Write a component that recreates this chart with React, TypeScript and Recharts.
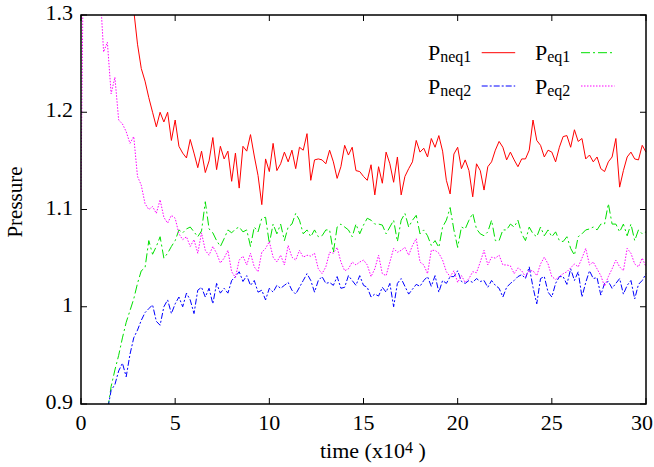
import React from 'react';
import { LineChart, Line, XAxis, YAxis } from 'recharts';

// sampling step of the time grid (x10^4)
const TIME_STEP = 0.2;

const X_TICKS = [0, 5, 10, 15, 20, 25, 30];
const Y_TICKS = [0.9, 1, 1.1, 1.2, 1.3];

// one row per time unit: t = k, k+0.2, k+0.4, k+0.6, k+0.8
const P_NEQ1 = [
  null, null, null, null, null, // 0
  null, null, null, null, null, // 1
  null, null, null, 1.36, 1.305, // 2
  1.27, 1.245, 1.232, 1.215, 1.2, // 3
  1.185, 1.2, 1.19, 1.2, 1.171, // 4
  1.192, 1.165, 1.158, 1.153, 1.172, // 5
  1.158, 1.143, 1.16, 1.138, 1.15, // 6
  1.174, 1.141, 1.165, 1.152, 1.16, // 7
  1.129, 1.158, 1.122, 1.165, 1.16, // 8
  1.177, 1.155, 1.135, 1.105, 1.152, // 9
  1.139, 1.168, 1.14, 1.147, 1.159, // 10
  1.149, 1.161, 1.142, 1.164, 1.161, // 11
  1.178, 1.13, 1.151, 1.152, 1.151, // 12
  1.147, 1.161, 1.149, 1.132, 1.144, // 13
  1.166, 1.156, 1.164, 1.14, 1.139, // 14
  1.134, 1.13, 1.146, 1.115, 1.144, // 15
  1.127, 1.159, 1.147, 1.128, 1.154, // 16
  1.115, 1.134, 1.142, 1.149, 1.171, // 17
  1.159, 1.163, 1.154, 1.173, 1.164, // 18
  1.176, 1.16, 1.13, 1.116, 1.157, // 19
  1.164, 1.142, 1.151, 1.14, 1.113, // 20
  1.147, 1.14, 1.12, 1.144, 1.149, // 21
  1.161, 1.17, 1.164, 1.151, 1.159, // 22
  1.151, 1.144, 1.152, 1.152, 1.161, // 23
  1.192, 1.171, 1.166, 1.154, 1.161, // 24
  1.159, 1.149, 1.164, 1.175, 1.176, // 25
  1.164, 1.182, 1.17, 1.173, 1.152, // 26
  1.156, 1.149, 1.154, 1.142, 1.139, // 27
  1.149, 1.154, 1.173, 1.123, 1.14, // 28
  1.154, 1.159, 1.152, 1.151, 1.166, // 29
  1.159, // 30
];

const P_EQ1 = [
  null, null, null, null, null, // 0
  null, 0.86, 0.893, 0.918, 0.935, // 1
  0.95, 0.968, 0.984, 0.996, 1.008, // 2
  1.024, 1.037, 1.04, 1.068, 1.054, // 3
  1.062, 1.072, 1.05, 1.055, 1.062, // 4
  1.068, 1.079, 1.076, 1.08, 1.082, // 5
  1.077, 1.072, 1.078, 1.108, 1.08, // 6
  1.076, 1.068, 1.062, 1.07, 1.079, // 7
  1.076, 1.08, 1.082, 1.077, 1.079, // 8
  1.062, 1.082, 1.077, 1.091, 1.092, // 9
  1.065, 1.085, 1.075, 1.085, 1.068, // 10
  1.082, 1.085, 1.096, 1.089, 1.075, // 11
  1.079, 1.072, 1.079, 1.072, 1.073, // 12
  1.079, 1.079, 1.056, 1.082, 1.085, // 13
  1.082, 1.079, 1.072, 1.085, 1.075, // 14
  1.084, 1.091, 1.089, 1.085, 1.085, // 15
  1.084, 1.075, 1.082, 1.089, 1.067, // 16
  1.089, 1.096, 1.082, 1.089, 1.094, // 17
  1.075, 1.079, 1.073, 1.063, 1.068, // 18
  1.061, 1.082, 1.089, 1.102, 1.079, // 19
  1.061, 1.082, 1.08, 1.089, 1.096, // 20
  1.08, 1.075, 1.073, 1.077, 1.089, // 21
  1.068, 1.068, 1.079, 1.079, 1.085, // 22
  1.082, 1.089, 1.075, 1.068, 1.082, // 23
  1.075, 1.072, 1.082, 1.073, 1.079, // 24
  1.072, 1.077, 1.068, 1.067, 1.072, // 25
  1.06, 1.053, 1.072, 1.075, 1.079, // 26
  1.08, 1.082, 1.079, 1.085, 1.085, // 27
  1.106, 1.085, 1.085, 1.077, 1.085, // 28
  1.073, 1.085, 1.068, 1.079, 1.075, // 29
  1.077, // 30
];

const P_NEQ2 = [
  null, null, null, null, null, // 0
  null, 0.86, 0.893, 0.914, 0.92, // 1
  0.934, 0.942, 0.928, 0.951, 0.968, // 2
  0.976, 0.986, 0.994, 0.998, 1.002, // 3
  0.985, 0.981, 1.0, 1.007, 0.993, // 4
  1.003, 1.01, 1.0, 1.014, 1.007, // 5
  0.993, 1.017, 1.02, 1.01, 1.019, // 6
  1.003, 1.024, 1.014, 1.019, 1.014, // 7
  1.027, 1.031, 1.036, 1.026, 1.032, // 8
  1.022, 1.027, 1.015, 1.017, 1.007, // 9
  1.019, 1.015, 1.022, 1.019, 1.022, // 10
  1.025, 1.017, 1.013, 1.02, 1.027, // 11
  1.034, 1.027, 1.015, 1.027, 1.031, // 12
  1.024, 1.025, 1.022, 1.031, 1.019, // 13
  1.02, 1.032, 1.027, 1.022, 1.032, // 14
  1.022, 1.02, 1.01, 1.013, 1.011, // 15
  1.02, 1.015, 1.024, 1.0, 1.024, // 16
  1.029, 1.021, 1.013, 1.018, 1.023, // 17
  1.021, 1.027, 1.031, 1.021, 1.032, // 18
  1.015, 1.027, 1.024, 1.031, 1.031, // 19
  1.037, 1.026, 1.024, 1.027, 1.025, // 20
  1.029, 1.026, 1.027, 1.02, 1.027, // 21
  1.022, 1.019, 1.01, 1.02, 1.024, // 22
  1.027, 1.031, 1.033, 1.029, 1.041, // 23
  1.02, 1.003, 1.029, 1.031, 1.015, // 24
  1.01, 1.024, 1.031, 1.031, 1.023, // 25
  1.039, 1.027, 1.036, 1.01, 1.025, // 26
  1.037, 1.029, 1.03, 1.012, 1.024, // 27
  1.026, 1.019, 1.024, 1.029, 1.013, // 28
  1.022, 1.027, 1.008, 1.023, 1.027, // 29
  1.034, // 30
];

const P_EQ2 = [
  1.12, 1.5, 1.45, 1.4, 1.36, // 0
  1.33, 1.262, 1.272, 1.219, 1.236, // 1
  1.192, 1.188, 1.18, 1.168, 1.175, // 2
  1.134, 1.125, 1.106, 1.1, 1.103, // 3
  1.096, 1.11, 1.092, 1.086, 1.094, // 4
  1.091, 1.075, 1.069, 1.072, 1.062, // 5
  1.069, 1.055, 1.076, 1.058, 1.053, // 6
  1.062, 1.055, 1.045, 1.05, 1.058, // 7
  1.036, 1.03, 1.048, 1.052, 1.043, // 8
  1.055, 1.041, 1.036, 1.056, 1.06, // 9
  1.067, 1.051, 1.046, 1.053, 1.043, // 10
  1.063, 1.051, 1.048, 1.058, 1.051, // 11
  1.053, 1.052, 1.055, 1.039, 1.034, // 12
  1.041, 1.056, 1.055, 1.061, 1.046, // 13
  1.037, 1.039, 1.046, 1.043, 1.046, // 14
  1.048, 1.043, 1.031, 1.039, 1.053, // 15
  1.034, 1.032, 1.046, 1.06, 1.056, // 16
  1.058, 1.061, 1.053, 1.063, 1.07, // 17
  1.046, 1.043, 1.034, 1.058, 1.058, // 18
  1.055, 1.048, 1.036, 1.031, 1.037, // 19
  1.025, 1.032, 1.025, 1.029, 1.036, // 20
  1.035, 1.046, 1.058, 1.043, 1.051, // 21
  1.05, 1.053, 1.043, 1.043, 1.042, // 22
  1.034, 1.04, 1.037, 1.031, 1.037, // 23
  1.037, 1.032, 1.044, 1.051, 1.044, // 24
  1.031, 1.028, 1.031, 1.034, 1.036, // 25
  1.04, 1.044, 1.041, 1.05, 1.06, // 26
  1.043, 1.046, 1.039, 1.032, 1.021, // 27
  1.031, 1.039, 1.048, 1.041, 1.037, // 28
  1.06, 1.055, 1.044, 1.041, 1.05, // 29
  1.041, // 30
];

const TIME = P_NEQ1.map((_, i) => Math.round(i * TIME_STEP * 10) / 10);

const data = TIME.map((t, i) => ({
  t,
  neq1: P_NEQ1[i],
  eq1: P_EQ1[i],
  neq2: P_NEQ2[i],
  eq2: P_EQ2[i],
}));

const X_DOMAIN = [0, 30];
const Y_DOMAIN = [0.9, 1.3];

// chart layout
const W = 654;
const H = 467;
const MARGIN = { top: 15, right: 8, bottom: 0, left: 0 };
const Y_AXIS_W = 81;
const X_AXIS_H = 63;
const PLOT = {
  left: MARGIN.left + Y_AXIS_W,
  top: MARGIN.top,
  right: W - MARGIN.right,
  bottom: H - MARGIN.bottom - X_AXIS_H,
};
const TICK_LEN = 6;

const FONT = '"Liberation Serif", "Times New Roman", serif';

// legend order is row-wise: neq1, eq1 / neq2, eq2
const SERIES = [
  { key: 'neq1', color: '#ff0000', dash: undefined },
  { key: 'eq1', color: '#00e000', dash: '9 3 2 3' },
  { key: 'neq2', color: '#0000ff', dash: '6 2 2 2' },
  { key: 'eq2', color: '#ff00ff', dash: '1.5 1.5' },
];

const xPos = (v: number) =>
  PLOT.left + ((v - X_DOMAIN[0]) / (X_DOMAIN[1] - X_DOMAIN[0])) * (PLOT.right - PLOT.left);
const yPos = (v: number) =>
  PLOT.bottom - ((v - Y_DOMAIN[0]) / (Y_DOMAIN[1] - Y_DOMAIN[0])) * (PLOT.bottom - PLOT.top);

const XTick = ({ x, y, payload }: any) => (
  <text x={Math.min(x, 642)} y={y + 26} textAnchor="middle" fontFamily={FONT} fontSize={22} fill="#000">
    {payload.value}
  </text>
);

const YTick = ({ x, y, payload }: any) => (
  <text x={x} y={y + 5} textAnchor="end" fontFamily={FONT} fontSize={22} fill="#000">
    {payload.value}
  </text>
);

// frame with inward ticks, key and axis titles, laid over the chart
const Overlay = () => (
  <svg width={W} height={H} style={{ position: 'absolute', left: 0, top: 0, pointerEvents: 'none' }}>
    <rect
      x={PLOT.left}
      y={PLOT.top}
      width={PLOT.right - PLOT.left}
      height={PLOT.bottom - PLOT.top}
      fill="none"
      stroke="#000"
      strokeWidth={1.5}
    />
    {X_TICKS.map((v) => (
      <g key={`x${v}`} stroke="#000" strokeWidth={1}>
        <line x1={xPos(v)} x2={xPos(v)} y1={PLOT.bottom} y2={PLOT.bottom - TICK_LEN} />
        <line x1={xPos(v)} x2={xPos(v)} y1={PLOT.top} y2={PLOT.top + TICK_LEN} />
      </g>
    ))}
    {Y_TICKS.map((v) => (
      <g key={`y${v}`} stroke="#000" strokeWidth={1}>
        <line x1={PLOT.left} x2={PLOT.left + TICK_LEN} y1={yPos(v)} y2={yPos(v)} />
        <line x1={PLOT.right} x2={PLOT.right - TICK_LEN} y1={yPos(v)} y2={yPos(v)} />
      </g>
    ))}

    {SERIES.map((s, i) => {
      const col = i % 2;
      const row = Math.floor(i / 2);
      const ty = 59.5 + row * 34;
      const ly = 52.7 + row * 33.3;
      const sx = col === 0 ? 481.7 : 581;
      return (
        <g key={s.key}>
          <text x={428 + col * 107} y={ty} fontFamily={FONT} fontSize={22} fill="#000">
            P<tspan fontSize={16} dy={2}>{s.key}</tspan>
          </text>
          <line
            x1={sx}
            x2={sx + 33.5}
            y1={ly}
            y2={ly}
            stroke={s.color}
            strokeWidth={1}
            strokeDasharray={s.dash}
          />
        </g>
      );
    })}

    <text x={320} y={458} fontFamily={FONT} fontSize={22} fill="#000">
      time (x10<tspan fontSize={16} dy={-5}>4</tspan>
      <tspan dy={5}>{' )'}</tspan>
    </text>
    <text
      x={22}
      y={202}
      transform="rotate(-90 22 202)"
      textAnchor="middle"
      fontFamily={FONT}
      fontSize={21}
      fill="#000"
    >
      Pressure
    </text>
  </svg>
);

export default function App() {
  return (
    <div style={{ position: 'absolute', left: 0, top: 0, width: W, height: H, background: '#fff' }}>
      <LineChart width={W} height={H} data={data} margin={MARGIN}>
        <XAxis
          dataKey="t"
          type="number"
          domain={X_DOMAIN}
          ticks={X_TICKS}
          height={X_AXIS_H}
          tickSize={0}
          tickMargin={0}
          tickLine={false}
          axisLine={false}
          tick={<XTick />}
        />
        <YAxis
          type="number"
          domain={Y_DOMAIN}
          ticks={Y_TICKS}
          allowDataOverflow
          width={Y_AXIS_W}
          tickSize={0}
          tickMargin={8}
          tickLine={false}
          axisLine={false}
          tick={<YTick />}
        />
        {SERIES.map((s) => (
          <Line
            key={s.key}
            dataKey={s.key}
            type="linear"
            stroke={s.color}
            strokeWidth={1}
            strokeDasharray={s.dash}
            dot={false}
            activeDot={false}
            isAnimationActive={false}
          />
        ))}
      </LineChart>
      <Overlay />
    </div>
  );
}
